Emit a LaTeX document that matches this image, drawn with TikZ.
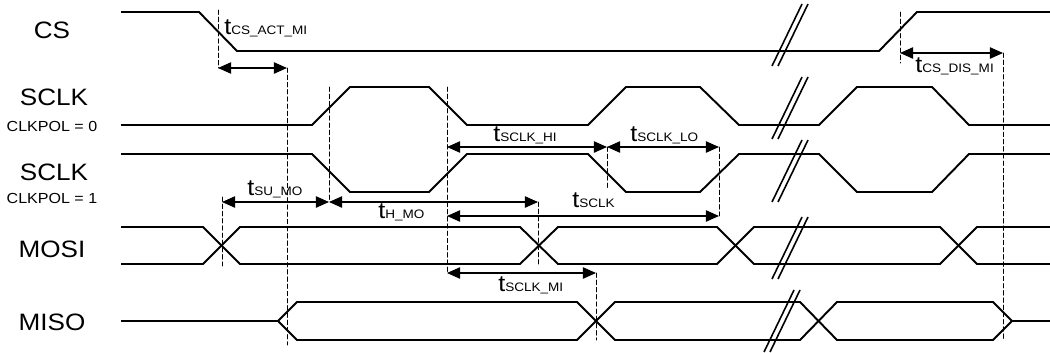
\documentclass[tikz,border=0pt]{standalone}
\usepackage{fontspec}
\setmainfont{Liberation Sans}[FakeStretch=1.1]
\usepackage{tikz, tkz-euclide}
\usetikzlibrary{arrows.meta}

\newcommand{\sigfont}{\fontsize{13.5}{15}\selectfont}
\newcommand{\polfont}{\fontsize{8.3}{9}\selectfont}
\newcommand{\tname}[1]{{\fontsize{13}{14}\selectfont t}{\fontsize{7}{8}\selectfont #1}}
\newcommand{\cutmark}[2]{%
  \draw[cut] (#1-18,#2+31) -- (#1+12,#2-31);
  \draw[cut] (#1-12,#2+31) -- (#1+18,#2-31);}

\tikzset{
  wave/.style = {line width = 1.1pt, line join = miter},
  cut/.style = {line width = 0.9pt},
  guide/.style = {line width = 0.55pt, dash pattern = on 2.5pt off 1.6pt},
  span/.style = {line width = 0.75pt,
    {Triangle[length = 7.5pt, width = 6.5pt]}-{Triangle[length = 7.5pt, width = 6.5pt]}},
  sig/.style = {inner sep = 0pt, font = \sigfont},
  pol/.style = {inner sep = 0pt, font = \polfont},
  tlbl/.style = {inner sep = 0pt, anchor = base west}
}

\begin{document}
\begin{tikzpicture}[x = 0.02cm, y = -0.02cm]
\useasboundingbox (0,0) rectangle (1050,352);

% signal names
\node[sig] (cs) at (52,30) {CS};
\node[sig] (sclka) at (54,97) {SCLK};
\node[pol] (pola) at (52,126) {CLKPOL = 0};
\node[sig] (sclkb) at (54,172) {SCLK};
\node[pol] (polb) at (52,198) {CLKPOL = 1};
\node[sig] (mosi) at (52,249) {MOSI};
\node[sig] (miso) at (52,322) {MISO};

% waveforms
\draw[wave] (121,12) -- (199,12) -- (237,51) -- (879,51) -- (917,12) -- (1050,12);
\draw[wave] (121,125) -- (312,125) -- (350,87) -- (429,87) -- (467,125) -- (588,125)
  -- (626,87) -- (700,87) -- (739,125) -- (819,125) -- (857,87) -- (932,87)
  -- (969,125) -- (1050,125);
\draw[wave] (121,154) -- (312,154) -- (350,192) -- (429,192) -- (467,154) -- (588,154)
  -- (626,192) -- (700,192) -- (739,154) -- (819,154) -- (857,192) -- (932,192)
  -- (969,154) -- (1050,154);
\draw[wave] (121,227) -- (203,227) -- (240,264) -- (520,264) -- (558,227) -- (717,227)
  -- (754,264) -- (940,264) -- (977,227) -- (1050,227);
\draw[wave] (121,264) -- (203,264) -- (240,227) -- (520,227) -- (558,264) -- (717,264)
  -- (754,227) -- (940,227) -- (977,264) -- (1050,264);
\draw[wave] (121,321) -- (278,321) -- (297,302) -- (577,302) -- (615,340) -- (800,340)
  -- (837,302) -- (993,302) -- (1012,321) -- (1050,321);
\draw[wave] (278,321) -- (297,340) -- (577,340) -- (615,302) -- (800,302) -- (837,340)
  -- (993,340) -- (1012,321);

% breaks
\cutmark{790}{35}
\cutmark{790}{108}
\cutmark{790}{171}
\cutmark{790}{248}
\cutmark{782}{321}

% timing points
\tkzDefPoints{218/10/Ao, 218/68/A, 287/68/B, 287/345/Bo,
  329/87/Go, 329/202/G, 222/197/Fo, 222/202/F, 222/266/Fu,
  447/87/Co, 447/147/C, 607/147/D, 607/190/Do, 719/147/E,
  538/202/H, 538/264/Ho, 447/216/I, 719/216/J,
  447/273/K, 596/273/L, 596/340/Lo,
  900/12/Mo, 900/53/M, 900/63/Mu, 1003/53/N, 1003/340/No}
\tkzDrawSegments[guide](Ao,A B,Bo Go,G Fo,Fu Co,K D,Do E,J H,Ho L,Lo Mo,Mu N,No)
\tkzDrawSegments[span](A,B C,D D,E F,G G,H I,J K,L M,N)

% timing labels
\node[tlbl] (tact) at (224,34) {\tname{CS\_ACT\_MI}};
\node[tlbl] (thi) at (493,141) {\tname{SCLK\_HI}};
\node[tlbl] (tlo) at (630,141) {\tname{SCLK\_LO}};
\node[tlbl] (tsclk) at (572,207) {\tname{SCLK}};
\node[tlbl] (tsu) at (247,195) {\tname{SU\_MO}};
\node[tlbl] (thmo) at (378,218) {\tname{H\_MO}};
\node[tlbl] (tmi) at (498,291) {\tname{SCLK\_MI}};
\node[tlbl] (tdis) at (915,72) {\tname{CS\_DIS\_MI}};
\end{tikzpicture}
\end{document}
